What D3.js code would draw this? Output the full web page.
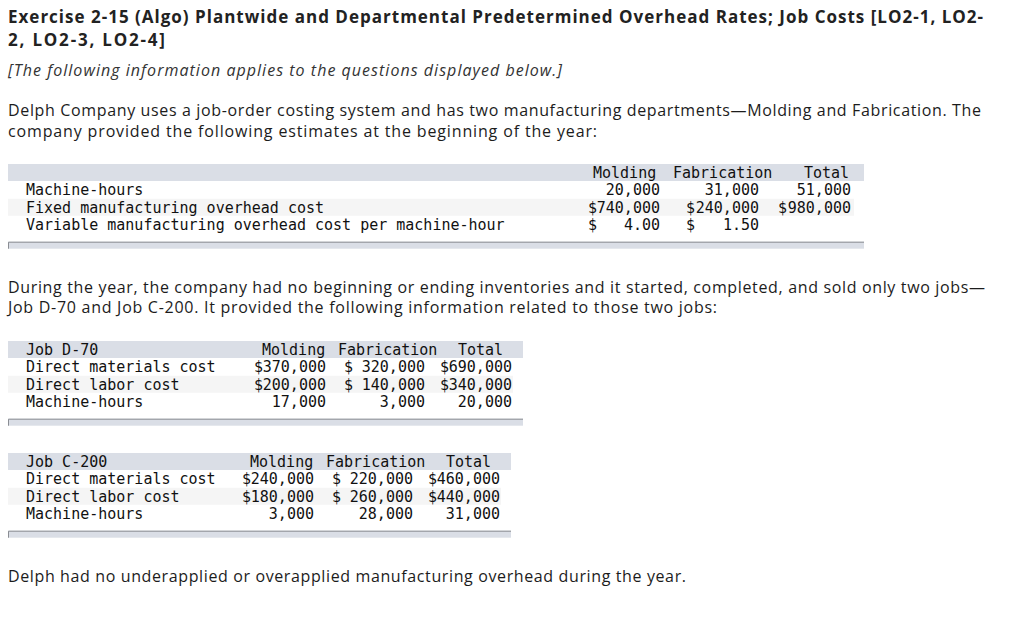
<!DOCTYPE html>
<html>
<head>
<meta charset="utf-8">
<script src="https://cdn.jsdelivr.net/npm/d3@7"></script>
<style>
  body { margin: 0; background: #fff; }
</style>
</head>
<body>
<div id="page"></div>
<script>
// page text
const titleLines = [
  "Exercise 2-15 (Algo) Plantwide and Departmental Predetermined Overhead Rates; Job Costs [LO2-1, LO2-",
  "2, LO2-3, LO2-4]"
];
const noteLine = "[The following information applies to the questions displayed below.]";
const introLines = [
  "Delph Company uses a job-order costing system and has two manufacturing departments\u2014Molding and Fabrication. The",
  "company provided the following estimates at the beginning of the year:"
];
const jobsIntroLines = [
  "During the year, the company had no beginning or ending inventories and it started, completed, and sold only two jobs\u2014",
  "Job D-70 and Job C-200. It provided the following information related to those two jobs:"
];
const closingLine = "Delph had no underapplied or overapplied manufacturing overhead during the year.";

// column headers shared by the three tables
const deptHeaders = ["Molding", "Fabrication", "Total"];

// estimates at the beginning of the year
const estLabels = ["Machine-hours", "Fixed manufacturing overhead cost", "Variable manufacturing overhead cost per machine-hour"];
const estKinds = ["hours", "money", "rate"];
const estMolding = [20000, 740000, 4.00];
const estFabrication = [31000, 240000, 1.50];
const estTotal = [51000, 980000, null];

// the two jobs
const jobLabels = ["Direct materials cost", "Direct labor cost", "Machine-hours"];
const jobKinds = ["money", "money", "hours"];
const d70Molding = [370000, 200000, 17000];
const d70Fabrication = [320000, 140000, 3000];
const d70Total = [690000, 340000, 20000];
const c200Molding = [240000, 180000, 3000];
const c200Fabrication = [220000, 260000, 28000];
const c200Total = [460000, 440000, 31000];

const W = 1024, H = 623;
const sans = "'Open Sans', Lato, sans-serif";
const mono = "'DejaVu Sans Mono', monospace";

const svg = d3.select("#page").append("svg")
  .attr("width", W).attr("height", H)
  .style("display", "block");

svg.append("rect").attr("width", W).attr("height", H).attr("fill", "#fff");

// a line of running text, fitted to the width it has in the picture
function textLine(str, x, y, width, opts) {
  return svg.append("text")
    .attr("x", x).attr("y", y)
    .attr("font-family", sans)
    .attr("font-size", opts.size)
    .attr("font-weight", opts.weight || "normal")
    .attr("font-style", opts.style || "normal")
    .attr("fill", opts.color || "#1c1c1c")
    .attr("textLength", width)
    .attr("lengthAdjust", "spacing")
    .text(str);
}

textLine(titleLines[0], 8, 23, 975, { size: 17, weight: "bold", color: "#222" });
textLine(titleLines[1], 8, 46, 157, { size: 17, weight: "bold", color: "#222" });
textLine(noteLine, 8, 76, 554, { size: 16, style: "italic", color: "#333" });
textLine(introLines[0], 8, 116, 973, { size: 16 });
textLine(introLines[1], 8, 137, 589, { size: 16 });
textLine(jobsIntroLines[0], 8, 293, 977, { size: 16 });
textLine(jobsIntroLines[1], 8, 313, 709, { size: 16 });
textLine(closingLine, 8, 582, 678, { size: 16 });

// table layouts
const tables = [
  { name: "", labels: estLabels, kinds: estKinds, cols: [estMolding, estFabrication, estTotal],
    top: 164, right: 864, headX: [593, 673, 804], dollarX: [588, 686, 778], endX: [660, 759, 851] },
  { name: "Job D-70", labels: jobLabels, kinds: jobKinds, cols: [d70Molding, d70Fabrication, d70Total],
    top: 341, right: 523, headX: [262, 338, 458], dollarX: [254, 344, 440], endX: [326, 425, 512] },
  { name: "Job C-200", labels: jobLabels, kinds: jobKinds, cols: [c200Molding, c200Fabrication, c200Total],
    top: 453, right: 511, headX: [250, 326, 446], dollarX: [242, 332, 428], endX: [314, 413, 500] }
];

const fmtHours = d3.format(",");
const fmtMoney = d3.format(",");
const fmtRate = d3.format(".2f");

tables.forEach(tb => {
  const rowH = 17.4;
  // row 0 is the header, rows 1..3 the data
  const y = d3.scalePoint()
    .domain(d3.range(tb.labels.length + 1))
    .range([tb.top + 8.5, tb.top + 8.5 + rowH * tb.labels.length]);

  const g = svg.append("g");

  // header band
  g.append("rect")
    .attr("x", 8).attr("y", tb.top)
    .attr("width", tb.right - 8).attr("height", 17)
    .attr("fill", "#dadee6");

  // light band on the second data row
  g.append("rect")
    .attr("x", 8).attr("y", y(2) - 8.5)
    .attr("width", tb.right - 8 - 10).attr("height", 17)
    .attr("fill", "#f5f5f5");

  // bottom bar
  const barY = y(tb.labels.length) + 17;
  g.append("rect")
    .attr("x", 8).attr("y", barY)
    .attr("width", tb.right - 8).attr("height", 7)
    .attr("fill", "#dadee6");
  g.append("path")
    .attr("d", `M8.5,${barY + 7}V${barY + 0.5}H${tb.right}`)
    .attr("fill", "none")
    .attr("stroke", "#8a8d93")
    .attr("stroke-width", 1);

  const mt = (sel) => sel
    .attr("font-family", mono)
    .attr("font-size", 15)
    .attr("fill", "#111")
    .attr("dy", "0.36em");

  // header texts
  if (tb.name) {
    g.append("text").attr("x", 26).attr("y", y(0)).call(mt).text(tb.name);
  }
  g.selectAll(".head")
    .data(deptHeaders)
    .enter().append("text")
    .attr("class", "head")
    .attr("x", (d, i) => tb.headX[i])
    .attr("y", y(0))
    .call(mt)
    .text(d => d);

  // row labels
  g.selectAll(".lab")
    .data(tb.labels)
    .enter().append("text")
    .attr("class", "lab")
    .attr("x", 26)
    .attr("y", (d, i) => y(i + 1))
    .call(mt)
    .text(d => d);

  // values
  tb.cols.forEach((col, c) => {
    col.forEach((v, r) => {
      if (v === null) return;
      const kind = tb.kinds[r];
      const yy = y(r + 1);
      if (kind !== "hours") {
        g.append("text").attr("x", tb.dollarX[c]).attr("y", yy).call(mt).text("$");
      }
      const s = kind === "hours" ? fmtHours(v) : kind === "rate" ? fmtRate(v) : fmtMoney(v);
      g.append("text")
        .attr("x", tb.endX[c]).attr("y", yy)
        .attr("text-anchor", "end")
        .call(mt)
        .text(s);
    });
  });
});
</script>
</body>
</html>
